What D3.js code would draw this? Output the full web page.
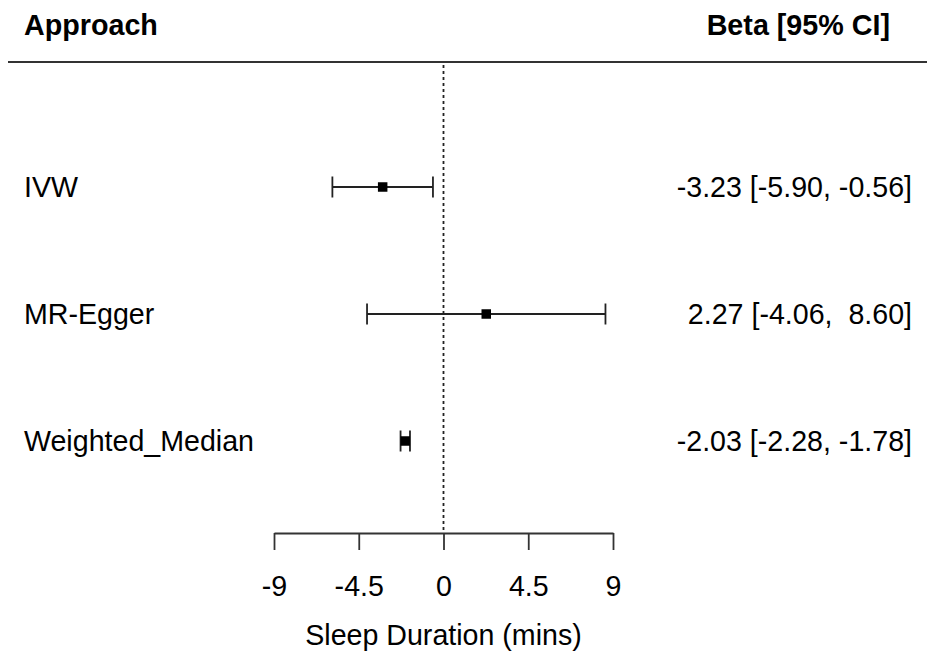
<!DOCTYPE html>
<meta charset="utf-8">
<style type="text/css">
	body {
		margin: 0;
		background: #fff;
	}

	text {
		font-family: "Liberation Sans", Arial, sans-serif;
		fill: #000;
	}

	.head {
		font-size: 28.7px;
		font-weight: bold;
	}

	.row-label, .ci-label, .x.axis text, .x-title {
		font-size: 28.6px;
	}

	.ci-label {
		white-space: pre;
	}

	.x.axis path, .x.axis line {
		stroke: #333;
		stroke-width: 1.8px;
	}

	.ci {
		stroke: #222;
		stroke-width: 1.8px;
	}
</style>

<body>
<div class="g-chart"></div>
</body>

<script src="https://d3js.org/d3.v7.min.js"></script>

<script>
  //Data
  var approaches = ["IVW", "MR-Egger", "Weighted_Median"];
  var beta = [-3.23, 2.27, -2.03];
  var lower = [-5.90, -4.06, -2.28];
  var upper = [-0.56, 8.60, -1.78];
  var ciLabels = ["-3.23 [-5.90, -0.56]", "2.27 [-4.06,  8.60]", "-2.03 [-2.28, -1.78]"];
  var xTicks = [-9, -4.5, 0, 4.5, 9];

  var width = 927,
    height = 657;

  var svg = d3.select(".g-chart").append("svg")
    .attr("width", width)
    .attr("height", height);

  //Scales
  var xScale = d3.scaleLinear()
    .domain([-9, 9])
    .range([274, 613]);

  var yScale = d3.scalePoint()
    .domain(approaches)
    .range([187, 441]);

  var axisY = 533;

  //Header
  svg.append("text")
    .attr("class", "head")
    .attr("x", 24)
    .attr("y", 35)
    .text("Approach");

  svg.append("text")
    .attr("class", "head")
    .attr("x", 890)
    .attr("y", 35)
    .attr("text-anchor", "end")
    .text("Beta [95% CI]");

  svg.append("line")
    .attr("x1", 8)
    .attr("x2", width)
    .attr("y1", 62)
    .attr("y2", 62)
    .style("stroke", "#333")
    .style("stroke-width", 2);

  //Zero line
  svg.append("line")
    .attr("x1", xScale(0))
    .attr("x2", xScale(0))
    .attr("y1", 65)
    .attr("y2", axisY)
    .style("stroke", "#222")
    .style("stroke-width", 1.8)
    .style("stroke-dasharray", "3,3");

  var rows = approaches.map(function(d, i) {
    return { name: d, beta: beta[i], lo: lower[i], hi: upper[i], label: ciLabels[i] };
  });

  //Row labels
  svg.selectAll("text.row-label")
    .data(rows)
    .enter()
    .append("text")
    .attr("class", "row-label")
    .attr("x", 24)
    .attr("y", function(d) { return yScale(d.name); })
    .attr("dy", "0.36em")
    .text(function(d) { return d.name; });

  //CI labels
  svg.selectAll("text.ci-label")
    .data(rows)
    .enter()
    .append("text")
    .attr("class", "ci-label")
    .attr("x", 912)
    .attr("y", function(d) { return yScale(d.name); })
    .attr("dy", "0.36em")
    .attr("text-anchor", "end")
    .text(function(d) { return d.label; });

  //CI lines
  var g = svg.selectAll("g.row")
    .data(rows)
    .enter()
    .append("g")
    .attr("class", "row");

  g.append("line")
    .attr("class", "ci")
    .attr("x1", function(d) { return xScale(d.lo); })
    .attr("x2", function(d) { return xScale(d.hi); })
    .attr("y1", function(d) { return yScale(d.name); })
    .attr("y2", function(d) { return yScale(d.name); });

  g.append("line")
    .attr("class", "ci")
    .attr("x1", function(d) { return xScale(d.lo); })
    .attr("x2", function(d) { return xScale(d.lo); })
    .attr("y1", function(d) { return yScale(d.name) - 10.5; })
    .attr("y2", function(d) { return yScale(d.name) + 10.5; });

  g.append("line")
    .attr("class", "ci")
    .attr("x1", function(d) { return xScale(d.hi); })
    .attr("x2", function(d) { return xScale(d.hi); })
    .attr("y1", function(d) { return yScale(d.name) - 10.5; })
    .attr("y2", function(d) { return yScale(d.name) + 10.5; });

  var box = 9.5;
  g.append("rect")
    .attr("x", function(d) { return xScale(d.beta) - box / 2; })
    .attr("y", function(d) { return yScale(d.name) - box / 2; })
    .attr("width", box)
    .attr("height", box)
    .style("fill", "#000");

  //X axis
  var xAxis = d3.axisBottom(xScale)
    .tickValues(xTicks)
    .tickFormat(function(d) { return d; })
    .tickSizeInner(17)
    .tickSizeOuter(0)
    .tickPadding(26);

  var xAxisGroup = svg.append("g")
    .attr("class", "x axis")
    .attr("transform", "translate(0," + axisY + ")")
    .call(xAxis);

  xAxisGroup.selectAll("text")
    .attr("font-size", null)
    .attr("font-family", null)
    .style("fill", "#000");

  //Axis title
  svg.append("text")
    .attr("class", "x-title")
    .attr("x", xScale(0))
    .attr("y", 645)
    .attr("text-anchor", "middle")
    .text("Sleep Duration (mins)");
</script>
